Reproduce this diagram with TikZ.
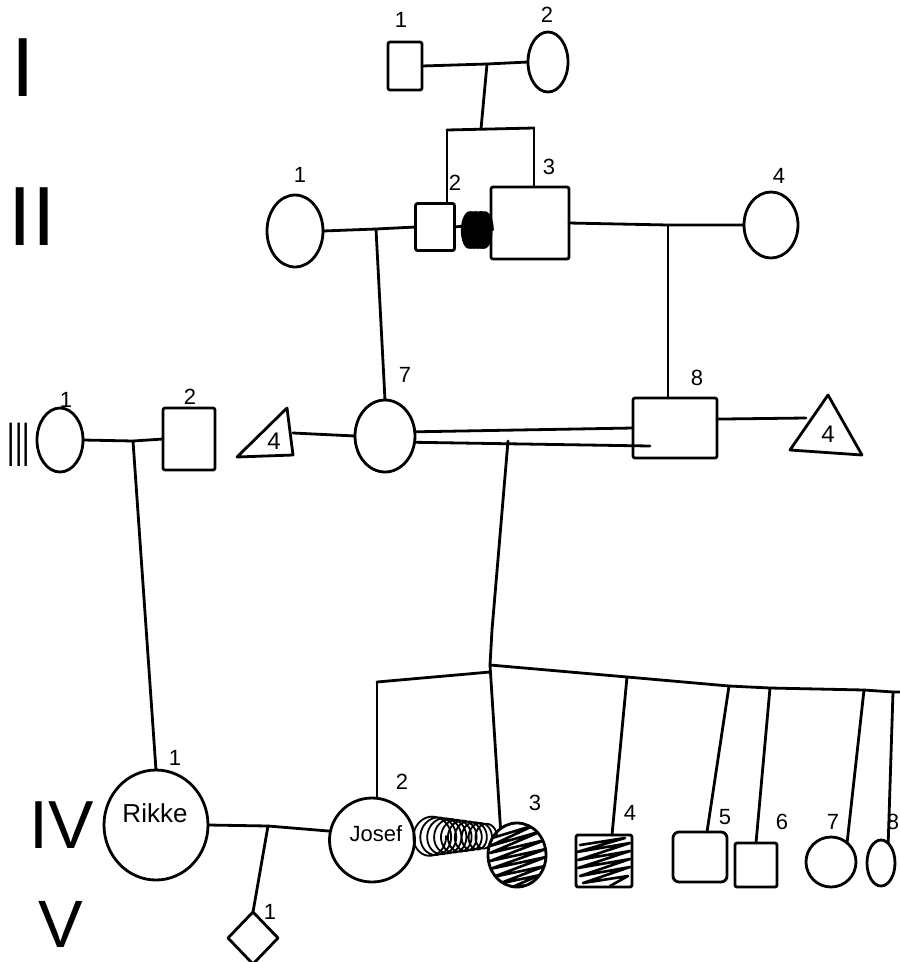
\documentclass[tikz,border=0pt]{standalone}
\usepackage{fontspec}
\setmainfont{Liberation Sans}
\usetikzlibrary{shapes.geometric,calc}

\begin{document}
\begin{tikzpicture}[x=1pt,y=-1pt, line width=2.8pt, line join=round, line cap=round,
  sq/.style={draw, rectangle, inner sep=0, outer sep=0, rounded corners=2pt},
  ell/.style={draw, ellipse, inner sep=0, outer sep=0},
  dia/.style={draw, diamond, inner sep=0, outer sep=0},
  num/.style={font=\fontsize{22}{22}\selectfont, inner sep=0},
  gen/.style={font=\fontsize{#1}{#1}\selectfont, inner sep=0},
  nametext/.style={font=\fontsize{#1}{#1}\selectfont, inner sep=0}]

\useasboundingbox (0,0) rectangle (900,962);

% generation numerals
\node[gen=84] at (23,68) {I};
\node[gen=84] at (32,217) {II};
\node[gen=63] at (19,445) {\scalebox{0.42}[1]{III}};
\node[gen=68] at (62,825) {IV};
\node[gen=67] at (61,924) {V};

% ---------- generation I ----------
\node[sq, minimum width=34, minimum height=48] (I1) at (405,66) {};
\node[ell, minimum width=40, minimum height=60] (I2) at (548,62) {};
\node[num] at (401,20) {1};
\node[num] at (547,15) {2};

% ---------- generation II ----------
\node[ell, minimum width=56, minimum height=72] (II1) at (295,231) {};
\node[sq, minimum width=39, minimum height=47] (II2) at (435,227) {};
\node[sq, minimum width=78, minimum height=72] (II3) at (530,223) {};
\node[ell, minimum width=54, minimum height=66] (II4) at (771,225) {};
\node[num] at (300,175) {1};
\node[num] at (455,183) {2};
\node[num] at (549,167) {3};
\node[num] at (779,176) {4};

% ---------- generation III ----------
\node[ell, minimum width=46, minimum height=64] (III1) at (60,440) {};
\node[sq, minimum width=52, minimum height=62] (III2) at (189,439) {};
\node[ell, minimum width=60, minimum height=72] (III7) at (385,436) {};
\node[sq, minimum width=84, minimum height=60] (III8) at (675,428) {};
\draw (237,457) -- (287,408) -- (293,455) -- cycle;
\draw (790,450) -- (828,395) -- (862,455) -- cycle;
\node[num, font=\fontsize{24}{24}\selectfont] (TL) at (274,441) {4};
\node[num, font=\fontsize{24}{24}\selectfont] (TR) at (828,434) {4};
\coordinate (tL) at (293,433);
\coordinate (tR) at (806,418);
\node[num] at (66,400) {1};
\node[num] at (190,397) {2};
\node[num] at (405,375) {7};
\node[num] at (697,378) {8};

% ---------- generation IV ----------
\node[ell, minimum width=104, minimum height=110] (IV1) at (156,825) {};
\node[nametext=26] at (155,813) {Rikke};
\node[ell, minimum width=85, minimum height=84] (IV2) at (372,840) {};
\node[nametext=22] at (376,834) {Josef};
\node[ell, minimum width=58, minimum height=64] (IV3) at (517,855) {};
\node[sq, minimum width=56, minimum height=52] (IV4) at (604,861) {};
\node[sq, rounded corners=6pt, minimum width=54, minimum height=50] (IV5) at (700,857) {};
\node[sq, minimum width=42, minimum height=44] (IV6) at (756,865) {};
\node[ell, minimum width=50, minimum height=50] (IV7) at (831,862) {};
\node[ell, minimum width=28, minimum height=46] (IV8) at (881,863) {};
\node[num] at (175,758) {1};
\node[num] at (402,782) {2};
\node[num] at (535,803) {3};
\node[num] at (630,813) {4};
\node[num] at (725,817) {5};
\node[num] at (782,822) {6};
\node[num] at (833,822) {7};
\node[num] at (893,822) {8};

% ---------- generation V ----------
\node[dia, minimum width=50, minimum height=52] (V1) at (253,938) {};
\node[num] at (270,912) {1};

% ---------- shading of affected individuals ----------
\fill (477,229) ellipse (10 and 16);
\draw[line width=1.6pt] plot[domain=0:4320, samples=400, smooth]
  ({469 + \x/4320*16 + 8*cos(\x)}, {230 + 18*sin(\x)});
\draw[line width=1.8pt] plot[domain=0:3600, samples=500, smooth]
  ({428 + \x/3600*60 + (18 - \x/3600*9)*cos(\x)}, {836 + (20 - \x/3600*8)*sin(\x)});
\begin{scope}
  \clip (517,855) ellipse (30 and 33);
  \draw[line width=2.6pt] (492,838) -- (535,825) -- (490,846) -- (542,831) -- (490,853)
    -- (545,840) -- (490,861) -- (546,849) -- (490,869) -- (546,857) -- (493,877)
    -- (545,866) -- (498,884) -- (540,875) -- (510,888) -- (535,884);
\end{scope}
\draw[line width=2.6pt] (580,845) -- (625,838) -- (577,852) -- (630,843) -- (578,860)
  -- (630,851) -- (578,868) -- (630,859) -- (580,876) -- (630,867) -- (583,883)
  -- (628,876) -- (610,886);

% ---------- partnerships and descent ----------
\coordinate (mI) at (487,64);
\coordinate (sI) at (481,129);
\coordinate (sIa) at (447,130);
\coordinate (sIb) at (534,128);
\draw (I1.east) -- (mI) -- (I2.west);
\draw (mI) -- (sI);
\draw (sIa) -- (sIb);
\draw (sIa) -- (sIa |- II2.north);
\draw (sIb) -- (sIb |- II3.north);

\coordinate (mII1) at (376,229);
\coordinate (mII2) at (668,225);
\draw (II1.east) -- (mII1) -- (II2.west);
\draw (II2.east) -- (II3.west);
\draw (II3.east) -- (mII2) -- (II4.west);
\draw (mII1) -- (III7.north);
\draw (mII2) -- (mII2 |- III8.north);

\coordinate (mIII1) at (133,441);
\coordinate (mIII2) at (508,441);
\coordinate (dB) at (650,446);
\coordinate (kink) at (492,630);
\coordinate (sc) at (490,665);
\draw (III1.east) -- (mIII1) -- (III2.west);
\draw (mIII1) -- (IV1.north);
\draw (tL) -- (III7.west);
\draw (III7.8) -- (III8.west);
\draw (III7.-12) -- (dB);
\draw (III8.12) -- (tR);
\draw (mIII2) -- (kink) -- (sc) -- (IV3.122);

% sibship of generation IV
\coordinate (sa) at (377,682);
\coordinate (sb) at (490,672);
\coordinate (sd) at (627,677);
\coordinate (se) at (729,686);
\coordinate (sf) at (770,688);
\coordinate (sg) at (864,690);
\coordinate (sh) at (893,692);
\coordinate (send) at (900,692);
\draw (sa) -- (sb);
\draw (sc) -- (sd) -- (se) -- (sf) -- (sg) -- (sh) -- (send);
\draw (sa) -- (sa |- IV2.north);
\draw (sd) -- ($(IV4.north)+(8,0)$);
\draw (se) -- ($(IV5.north)+(7,0)$);
\draw (sf) -- (IV6.north);
\draw (sg) -- (IV7.50);
\draw (sh) -- (IV8.70);

\coordinate (mIV) at (268,826);
\draw (IV1.east) -- (mIV) -- (IV2.168);
\draw (mIV) -- (V1.north);
\end{tikzpicture}
\end{document}
